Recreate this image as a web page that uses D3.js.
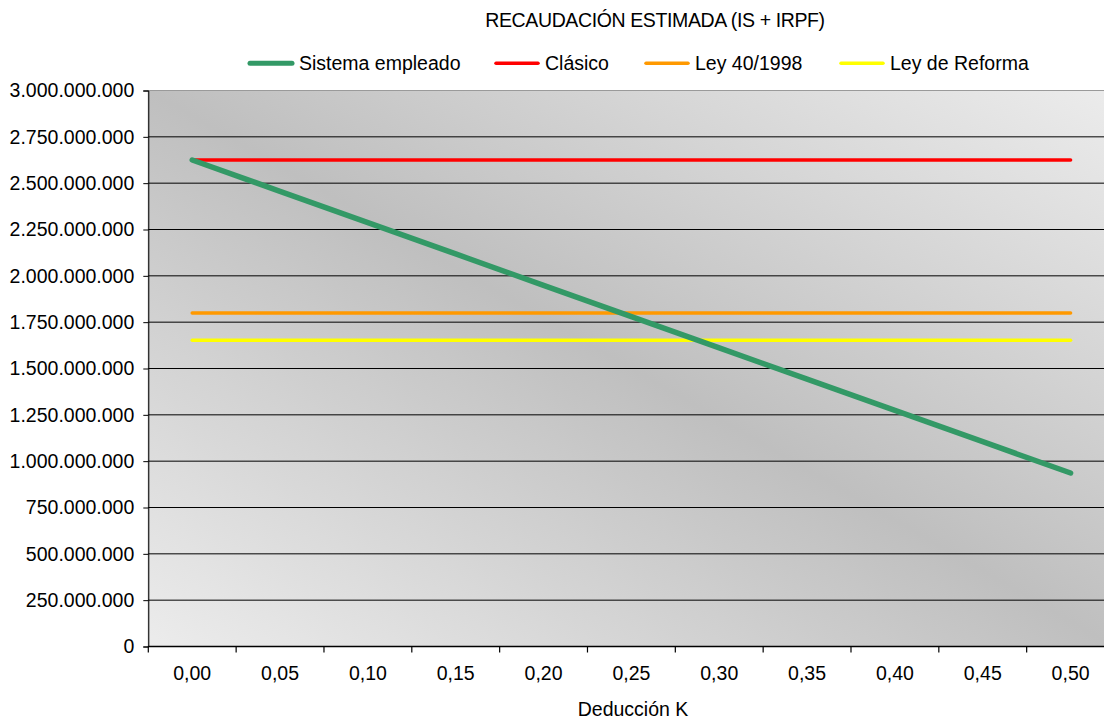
<!DOCTYPE html>
<html>
<head>
<meta charset="utf-8">
<script src="https://cdn.jsdelivr.net/npm/d3@7"></script>
<style>
  html, body { margin: 0; padding: 0; background: #ffffff; }
  svg { display: block; font-family: "Liberation Sans", Arial, sans-serif; }
</style>
</head>
<body>
<svg id="chart" width="1104" height="720"></svg>
<script>
// Deducción K (category axis)
const kValues = [0.00, 0.05, 0.10, 0.15, 0.20, 0.25, 0.30, 0.35, 0.40, 0.45, 0.50];
const kLabels = ["0,00", "0,05", "0,10", "0,15", "0,20", "0,25", "0,30", "0,35", "0,40", "0,45", "0,50"];

// Recaudación estimada (IS + IRPF) por sistema
const sistemaEmpleado = [2625000000, 2456000000, 2287000000, 2118000000, 1949000000, 1780000000,
                         1611000000, 1443000000, 1274000000, 1105000000, 936000000];
const clasico   = [2625000000, 2625000000, 2625000000, 2625000000, 2625000000, 2625000000,
                   2625000000, 2625000000, 2625000000, 2625000000, 2625000000];
const ley401998 = [1800000000, 1800000000, 1800000000, 1800000000, 1800000000, 1800000000,
                   1800000000, 1800000000, 1800000000, 1800000000, 1800000000];
const leyReforma = [1652000000, 1652000000, 1652000000, 1652000000, 1652000000, 1652000000,
                    1652000000, 1652000000, 1652000000, 1652000000, 1652000000];

const yTicks = [0, 250000000, 500000000, 750000000, 1000000000, 1250000000, 1500000000,
                1750000000, 2000000000, 2250000000, 2500000000, 2750000000, 3000000000];

const seriesNames = ["Sistema empleado", "Clásico", "Ley 40/1998", "Ley de Reforma"];
const seriesValues = [sistemaEmpleado, clasico, ley401998, leyReforma];
const seriesColors = ["#339966", "#ff0000", "#ff9900", "#ffff00"];
const seriesWidths = [5.5, 3.5, 3.5, 3.5];

const esLocale = d3.formatLocale({ decimal: ",", thousands: ".", grouping: [3], currency: ["", " €"] });
const fmtY = esLocale.format(",.0f");

const FONT = "'Liberation Sans', Arial, sans-serif";
const LABEL_SIZE = "19.5px";

const svg = d3.select("#chart");
const plot = { left: 148.3, top: 90.5, right: 1114.5, bottom: 646.5 };

const x = d3.scaleBand().domain(kLabels).range([plot.left, plot.right]).paddingInner(0).paddingOuter(0);
const y = d3.scaleLinear().domain([0, 3000000000]).range([plot.bottom, plot.top]);

// Plot area background: diagonal grey gradient
const defs = svg.append("defs");
const grad = defs.append("linearGradient")
  .attr("id", "plotBg")
  .attr("x1", "0").attr("y1", "1").attr("x2", "1").attr("y2", "0");
grad.append("stop").attr("offset", "0%").attr("stop-color", "#ececec");
grad.append("stop").attr("offset", "50%").attr("stop-color", "#bfbfbf");
grad.append("stop").attr("offset", "100%").attr("stop-color", "#ececec");

svg.append("rect")
  .attr("x", plot.left).attr("y", plot.top)
  .attr("width", plot.right - plot.left).attr("height", plot.bottom - plot.top)
  .attr("fill", "url(#plotBg)")
  .attr("stroke", "#9a9a9a").attr("stroke-width", 1);

// Horizontal gridlines
svg.append("g").selectAll("line")
  .data(yTicks.filter(v => v > 0 && v < 3000000000))
  .join("line")
  .attr("x1", plot.left).attr("x2", plot.right)
  .attr("y1", d => y(d)).attr("y2", d => y(d))
  .attr("stroke", "#000").attr("stroke-width", 1);

// Y axis
const yAxis = svg.append("g")
  .attr("transform", `translate(${plot.left},0)`)
  .call(d3.axisLeft(y).tickValues(yTicks).tickFormat(fmtY).tickSize(5).tickPadding(9));
yAxis.select(".domain").attr("stroke", "#000").attr("stroke-width", 1);
yAxis.selectAll(".tick line").attr("stroke", "#000");
yAxis.selectAll("text").attr("font-size", LABEL_SIZE).attr("fill", "#000")
  .attr("font-family", FONT);

// X axis: labels centred on categories, ticks on category boundaries
const xAxis = svg.append("g")
  .attr("transform", `translate(0,${plot.bottom})`)
  .call(d3.axisBottom(x).tickSize(0).tickPadding(20));
xAxis.select(".domain").remove();
xAxis.selectAll("text").attr("font-size", LABEL_SIZE).attr("fill", "#000")
  .attr("font-family", FONT);

svg.append("line")
  .attr("x1", plot.left).attr("x2", plot.right)
  .attr("y1", plot.bottom).attr("y2", plot.bottom)
  .attr("stroke", "#000").attr("stroke-width", 1.5);
svg.append("g").selectAll("line")
  .data(kLabels)
  .join("line")
  .attr("x1", d => x(d)).attr("x2", d => x(d))
  .attr("y1", plot.bottom).attr("y2", plot.bottom + 6)
  .attr("stroke", "#000").attr("stroke-width", 1.2);

// Series lines
const line = d3.line()
  .x((d, i) => x(kLabels[i]) + x.bandwidth() / 2)
  .y(d => y(d));

const drawOrder = [1, 2, 3, 0];
svg.append("g").selectAll("path")
  .data(drawOrder)
  .join("path")
  .attr("d", i => line(seriesValues[i]))
  .attr("fill", "none")
  .attr("stroke", i => seriesColors[i])
  .attr("stroke-width", i => seriesWidths[i])
  .attr("stroke-linecap", "round")
  .attr("stroke-linejoin", "round");

// Title
svg.append("text")
  .attr("x", 655).attr("y", 27)
  .attr("text-anchor", "middle")
  .attr("font-size", "19.5px")
  .attr("letter-spacing", "-0.38px")
  .attr("fill", "#000")
  .text("RECAUDACIÓN ESTIMADA (IS + IRPF)");

// Axis title
svg.append("text")
  .attr("x", 633).attr("y", 716)
  .attr("text-anchor", "middle")
  .attr("font-size", LABEL_SIZE)
  .attr("fill", "#000")
  .text("Deducción K");

// Legend (one row above the plot)
const legendStarts = [248, 494, 644, 839];
const legend = svg.append("g");
const ly = 63.3;
seriesNames.forEach((name, i) => {
  const lx = legendStarts[i];
  legend.append("line")
    .attr("x1", lx + 2).attr("x2", lx + 44)
    .attr("y1", ly).attr("y2", ly)
    .attr("stroke", seriesColors[i])
    .attr("stroke-width", i === 0 ? 5 : 3.5)
    .attr("stroke-linecap", "round");
  legend.append("text")
    .attr("x", lx + 51).attr("y", ly + 6.5)
    .attr("font-size", LABEL_SIZE)
    .attr("fill", "#000")
    .text(name);
});
</script>
</body>
</html>
